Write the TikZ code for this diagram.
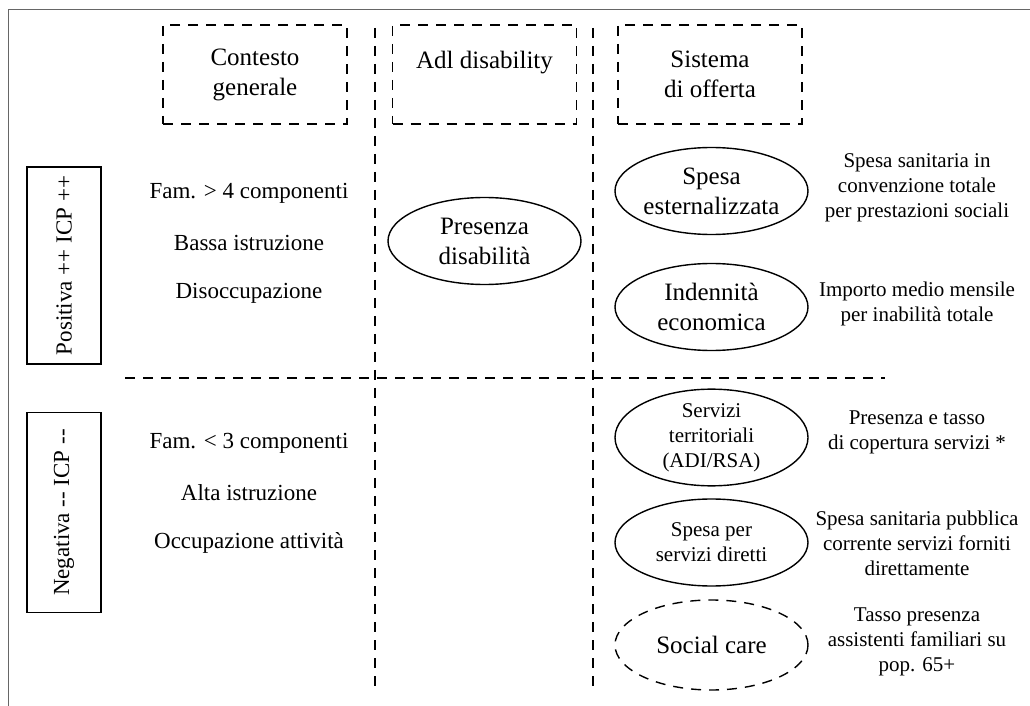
\documentclass[tikz,border=0pt]{standalone}
\usepackage{fontspec}
\setmainfont{Liberation Serif}
\usetikzlibrary{shapes.geometric}

\tikzset{
  divider/.style={line width=0.8pt, dash pattern=on 5pt off 4pt},
  headbox/.style={draw, line width=0.8pt, dash pattern=on 5pt off 4pt,
    minimum width=92pt, minimum height=49.5pt, align=center,
    font=\fontsize{12.5}{15}\selectfont},
  signbox/.style={draw, line width=0.7pt, rotate=90,
    minimum height=37pt, inner sep=0pt},
  factor/.style={font=\fontsize{11.5}{12.5}\selectfont},
  offer/.style={draw, ellipse, line width=0.7pt, minimum width=96.5pt,
    minimum height=43.5pt, inner sep=0pt, align=center,
    font=\fontsize{12.5}{15}\selectfont},
  smalloffer/.style={offer, font=\fontsize{10.5}{12.5}\selectfont},
  descr/.style={align=center, font=\fontsize{10.5}{12.5}\selectfont}
}

\begin{document}
\begin{tikzpicture}[x=0.5pt,y=-0.5pt,font=\fontsize{11.5}{15}\selectfont]
    \useasboundingbox (0,0) rectangle (1030,706);
    % frame
    \coordinate (F0) at (8,706);
    \coordinate (F1) at (8,10);
    \coordinate (F2) at (1030,10);
      \draw [gray!80!black, line width=0.5pt] (F0) -- (F1) -- (F2);
    % column headers
    \node [headbox] (contesto) at (255,74.5) {Contesto\\generale};
    \node [headbox] (adl) at (484.5,74.5) {Adl disability\\\mbox{}};
    \node [headbox] (offerta) at (710,74.5) {Sistema\\di offerta};
    % dividers
    \coordinate (V1a) at (375,28);
    \coordinate (V1b) at (375,687);
    \coordinate (V2a) at (593,28);
    \coordinate (V2b) at (593,687);
    \coordinate (H0) at (125,378);
    \coordinate (H1) at (885,378);
      \draw [divider] (V1a) -- (V1b);
      \draw [divider] (V2a) -- (V2b);
      \draw [divider] (H0) -- (H1);
    % sign of the correlation
    \node [signbox, minimum width=98.5pt] (positiva) at (64,265.5) {Positiva ++ ICP ++};
    \node [signbox, minimum width=100pt] (negativa) at (64,512.5) {Negativa -{}- ICP -{}-};
    % general context
    \node [factor] (fam4) at (249,193) {Fam. > 4 componenti};
    \node [factor] (bassa) at (249,243) {Bassa istruzione};
    \node [factor] (disocc) at (249,293) {Disoccupazione};
    \node [factor] (fam3) at (249,443) {Fam. < 3 componenti};
    \node [factor] (alta) at (249,493) {Alta istruzione};
    \node [factor] (occup) at (249,543) {Occupazione attività};
    % adl disability
    \node [offer] (presenza) at (484.5,241) {Presenza\\disabilità};
    % supply system
    \node [offer] (spesaest) at (711.5,191) {Spesa\\esternalizzata};
    \node [offer] (indenn) at (711.5,307) {Indennità\\economica};
    \node [smalloffer] (servterr) at (711.5,437.5) {Servizi\\territoriali\\(ADI/RSA)};
    \node [smalloffer] (spesadir) at (711.5,542.5) {Spesa per\\servizi diretti};
    \node [offer, draw=none] (socialcare) at (711.5,645) {Social care};
      \draw [line width=0.7pt, dash pattern=on 5pt off 4pt] (socialcare.center) ellipse (48.25pt and 22.5pt);
    % indicators
    \node [descr] (dspesaest) at (917,188) {Spesa sanitaria in\\convenzione totale\\per prestazioni sociali};
    \node [descr] (dindenn) at (917,304) {Importo medio mensile\\per inabilità totale};
    \node [descr] (dservterr) at (917,432) {Presenza e tasso\\di copertura servizi *};
    \node [descr] (dspesadir) at (917,543) {Spesa sanitaria pubblica\\corrente servizi forniti\\direttamente};
    \node [descr] (dsocialcare) at (917,642) {Tasso presenza\\assistenti familiari su\\pop. 65+};
  \end{tikzpicture}
\end{document}
